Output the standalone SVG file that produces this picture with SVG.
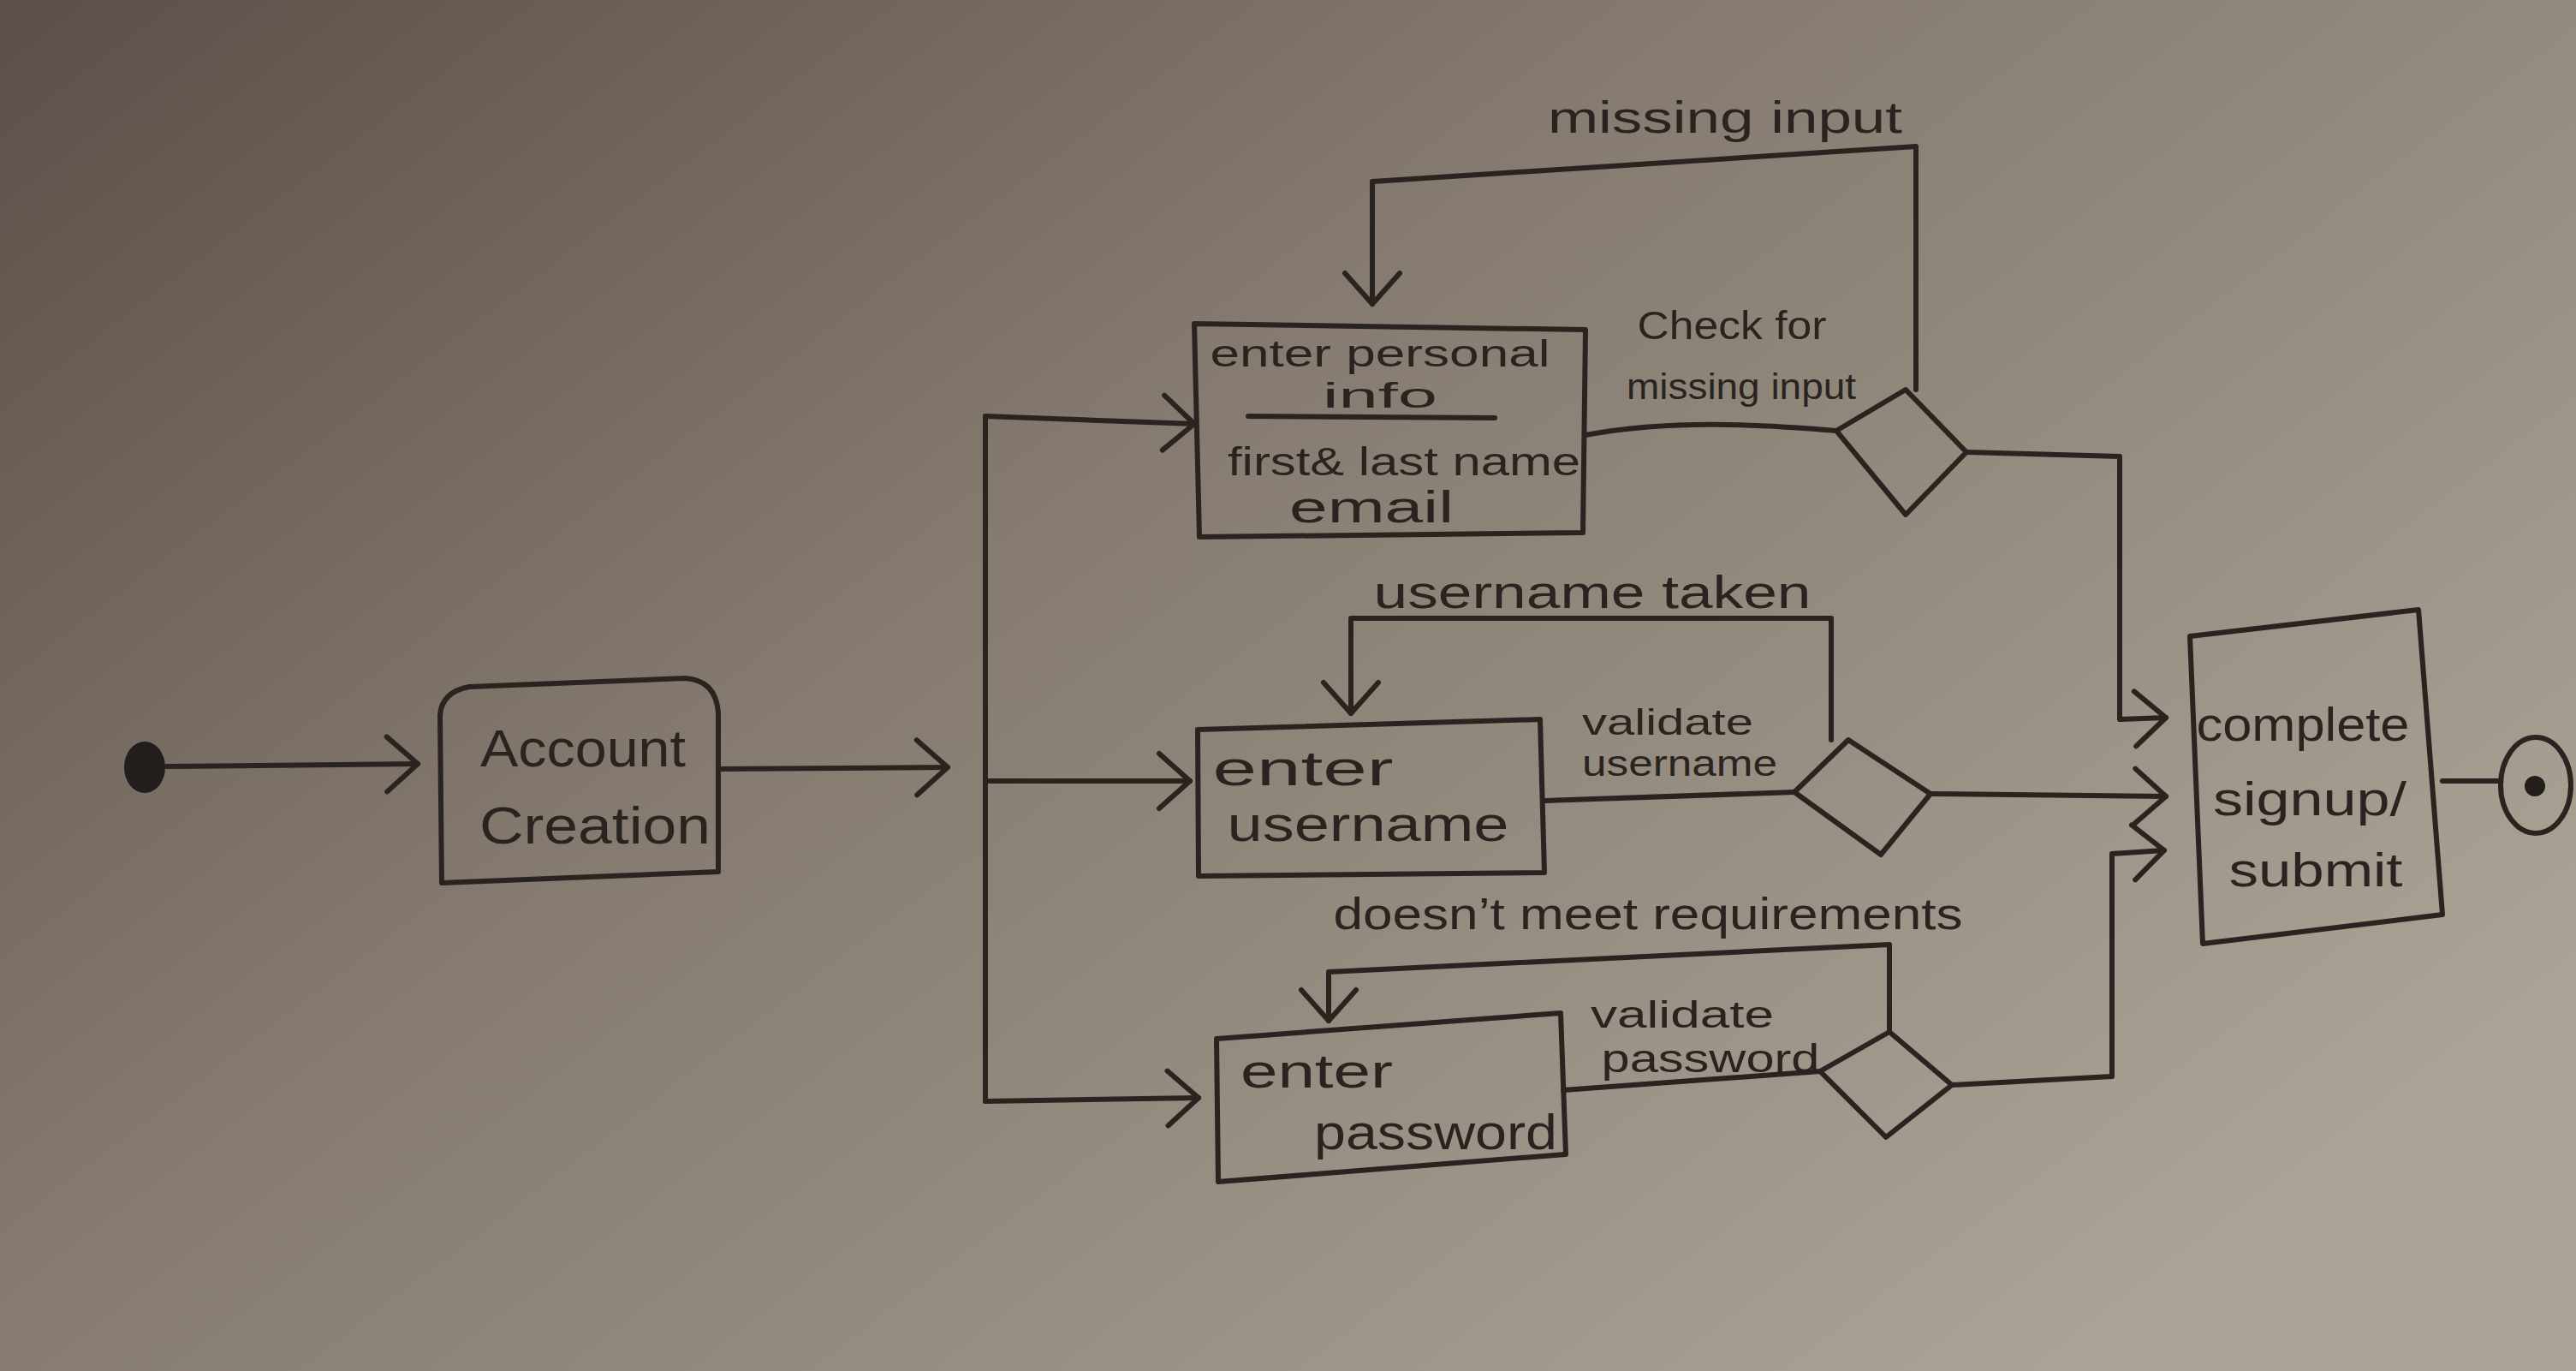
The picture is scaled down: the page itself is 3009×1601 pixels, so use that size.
<svg xmlns="http://www.w3.org/2000/svg" width="3009" height="1601" viewBox="0 0 3009 1601">
<style>
.ink{fill:none;stroke:#2a2421;stroke-width:6;stroke-linecap:round;stroke-linejoin:round}
.t{font-family:"Liberation Sans","DejaVu Sans",sans-serif;fill:#2a2421;text-anchor:middle}
</style>
<defs>
<linearGradient id="bg" x1="0" y1="0" x2="1" y2="0.7">
<stop offset="0" stop-color="#5b5049"/>
<stop offset="0.45" stop-color="#857b70"/>
<stop offset="1" stop-color="#a9a295"/>
</linearGradient>
<marker id="chev" markerUnits="userSpaceOnUse" markerWidth="60" markerHeight="80" refX="42" refY="40" orient="auto" viewBox="0 0 60 80">
<path d="M6,8 L42,40 L6,72" fill="none" stroke="#2a2421" stroke-width="6" stroke-linecap="round" stroke-linejoin="round"/>
</marker>
</defs>
<rect width="3009" height="1601" fill="url(#bg)"/>

<g id="connectors">
<path class="ink" d="M195,895 L488,892" marker-end="url(#chev)" stroke-width="8"/>
<path class="ink" d="M839,898 L1107,896" marker-end="url(#chev)"/>
<path class="ink" d="M1151,486 L1151,1286"/>
<path class="ink" d="M1151,486 L1395,495" marker-end="url(#chev)"/>
<path class="ink" d="M1151,912 L1390,912" marker-end="url(#chev)"/>
<path class="ink" d="M1151,1286 L1400,1282" marker-end="url(#chev)"/>
<path class="ink" d="M1852,508 C1950,490 2050,495 2145,503"/>
<path class="ink" d="M2238,455 L2238,171 L1603,212 L1603,355" marker-end="url(#chev)"/>
<path class="ink" d="M2297,528 L2476,533 L2476,840 L2530,838" marker-end="url(#chev)"/>
<path class="ink" d="M1804,935 L2096,925"/>
<path class="ink" d="M2139,864 L2139,722 L1578,722 L1578,833" marker-end="url(#chev)"/>
<path class="ink" d="M2255,927 L2530,930" marker-end="url(#chev)"/>
<path class="ink" d="M1826,1273 L2126,1251"/>
<path class="ink" d="M2207,1205 L2207,1103 L1552,1135 L1552,1192" marker-end="url(#chev)"/>
<path class="ink" d="M2280,1267 L2467,1257 L2467,997 L2528,993" marker-end="url(#chev)"/>
<path class="ink" d="M2853,912 L2920,912"/>
<text class="t" x="2015" y="155" font-size="52" textLength="414" lengthAdjust="spacingAndGlyphs">missing input</text>
<text class="t" x="2023" y="396" font-size="46" textLength="221" lengthAdjust="spacingAndGlyphs">Check for</text>
<text class="t" x="2034" y="466" font-size="42" textLength="268" lengthAdjust="spacingAndGlyphs">missing input</text>
<text class="t" x="1860" y="710" font-size="54" textLength="511" lengthAdjust="spacingAndGlyphs">username taken</text>
<text class="t" x="1948" y="858" font-size="42" textLength="200" lengthAdjust="spacingAndGlyphs">validate</text>
<text class="t" x="1962" y="906" font-size="42" textLength="228" lengthAdjust="spacingAndGlyphs">username</text>
<text class="t" x="1925" y="1085" font-size="52" textLength="735" lengthAdjust="spacingAndGlyphs">doesn’t meet requirements</text>
<text class="t" x="1965" y="1200" font-size="44" textLength="214" lengthAdjust="spacingAndGlyphs">validate</text>
<text class="t" x="1998" y="1252" font-size="46" textLength="255" lengthAdjust="spacingAndGlyphs">password</text>
</g>

<g id="start">
<ellipse cx="169" cy="896" rx="24" ry="30" fill="#231e1b"/>
</g>

<g id="account-creation">
<path class="ink" d="M516,1031 L514,835 Q516,808 548,802 L800,792 Q836,794 839,832 L839,1018 Z"/>
<text class="t" x="681" y="895" font-size="62" textLength="240" lengthAdjust="spacingAndGlyphs">Account</text>
<text class="t" x="695" y="985" font-size="62" textLength="270" lengthAdjust="spacingAndGlyphs">Creation</text>
</g>

<g id="personal-info">
<path class="ink" d="M1395,378 L1852,385 L1849,622 L1401,627 Z"/>
<text class="t" x="1612" y="428" font-size="44" textLength="397" lengthAdjust="spacingAndGlyphs">enter personal</text>
<text class="t" x="1612" y="476" font-size="40" textLength="134" lengthAdjust="spacingAndGlyphs">info</text>
<path class="ink" d="M1458,486 L1746,488"/>
<text class="t" x="1640" y="555" font-size="46" textLength="412" lengthAdjust="spacingAndGlyphs">first&amp; last name</text>
<text class="t" x="1602" y="610" font-size="52" textLength="192" lengthAdjust="spacingAndGlyphs">email</text>
</g>

<g id="check-missing">
<path class="ink" d="M2145,503 L2226,455 L2297,528 L2226,601 Z"/>
</g>

<g id="enter-username">
<path class="ink" d="M1399,852 L1799,840 L1804,1019 L1400,1023 Z"/>
<text class="t" x="1522" y="917" font-size="58" textLength="211" lengthAdjust="spacingAndGlyphs">enter</text>
<text class="t" x="1598" y="982" font-size="58" textLength="329" lengthAdjust="spacingAndGlyphs">username</text>
</g>

<g id="validate-username">
<path class="ink" d="M2096,925 L2159,864 L2255,927 L2197,998 Z"/>
</g>

<g id="enter-password">
<path class="ink" d="M1421,1213 L1823,1183 L1829,1348 L1423,1380 Z"/>
<text class="t" x="1538" y="1270" font-size="56" textLength="178" lengthAdjust="spacingAndGlyphs">enter</text>
<text class="t" x="1677" y="1342" font-size="58" textLength="284" lengthAdjust="spacingAndGlyphs">password</text>
</g>

<g id="validate-password">
<path class="ink" d="M2126,1251 L2207,1205 L2280,1267 L2203,1328 Z"/>
</g>

<g id="complete-signup">
<path class="ink" d="M2558,743 L2825,712 L2853,1068 L2573,1102 Z"/>
<text class="t" x="2690" y="865" font-size="56" textLength="249" lengthAdjust="spacingAndGlyphs">complete</text>
<text class="t" x="2698" y="952" font-size="56" textLength="226" lengthAdjust="spacingAndGlyphs">signup/</text>
<text class="t" x="2705" y="1035" font-size="56" textLength="203" lengthAdjust="spacingAndGlyphs">submit</text>
</g>

<g id="end">
<ellipse class="ink" cx="2962" cy="917" rx="41" ry="56"/>
<circle cx="2961" cy="918" r="12" fill="#231e1b"/>
</g>
</svg>
